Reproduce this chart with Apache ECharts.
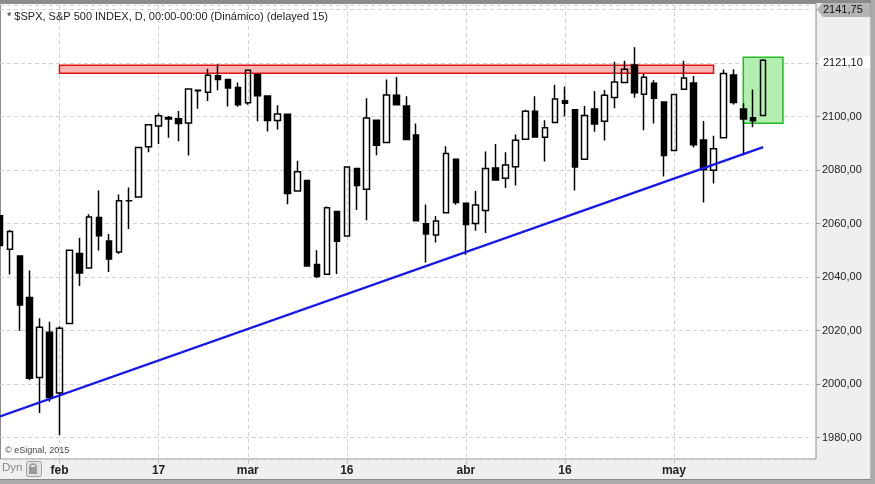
<!DOCTYPE html>
<html><head><meta charset="utf-8">
<script src="https://cdn.jsdelivr.net/npm/echarts@6/dist/echarts.min.js"></script>
<style>html,body{margin:0;padding:0;background:#efefef;overflow:hidden}#c{width:875px;height:484px}</style>
</head><body><div id="c"></div>
<script>
// ---- data ----
const dates = ['2015-01-23','2015-01-26','2015-01-27','2015-01-28','2015-01-29','2015-01-30',
 '2015-02-02','2015-02-03','2015-02-04','2015-02-05','2015-02-06','2015-02-09','2015-02-10','2015-02-11','2015-02-12','2015-02-13',
 '2015-02-17','2015-02-18','2015-02-19','2015-02-20','2015-02-23','2015-02-24','2015-02-25','2015-02-26','2015-02-27',
 '2015-03-02','2015-03-03','2015-03-04','2015-03-05','2015-03-06','2015-03-09','2015-03-10','2015-03-11','2015-03-12','2015-03-13',
 '2015-03-16','2015-03-17','2015-03-18','2015-03-19','2015-03-20','2015-03-23','2015-03-24','2015-03-25','2015-03-26','2015-03-27',
 '2015-03-30','2015-03-31','2015-04-01','2015-04-02','2015-04-06','2015-04-07','2015-04-08','2015-04-09','2015-04-10',
 '2015-04-13','2015-04-14','2015-04-15','2015-04-16','2015-04-17','2015-04-20','2015-04-21','2015-04-22','2015-04-23','2015-04-24',
 '2015-04-27','2015-04-28','2015-04-29','2015-04-30','2015-05-01','2015-05-04','2015-05-05','2015-05-06','2015-05-07','2015-05-08',
 '2015-05-11','2015-05-12','2015-05-13','2015-05-14'];
const futureDates = ['2015-05-15','2015-05-18','2015-05-19','2015-05-20','2015-05-21'];
const opens = [2062.98,2050.42,2047.86,2032.34,2002.45,2019.35,1996.67,2022.71,2048.86,2043.45,2062.28,2053.47,2049.38,2068.55,2069.98,2088.78,
 2096.47,2099.16,2099.25,2097.65,2109.83,2109.10,2115.30,2113.91,2110.88,2105.23,2115.76,2107.72,2098.54,2100.91,2072.25,2076.14,2044.69,2041.10,2064.56,
 2055.35,2080.59,2072.84,2098.69,2090.32,2107.99,2103.94,2093.10,2059.94,2055.78,2064.11,2084.05,2067.63,2060.03,2064.87,2080.79,2076.94,2081.29,2091.51,
 2102.03,2092.28,2097.82,2105.96,2102.58,2084.11,2102.82,2098.27,2107.21,2112.80,2119.29,2108.35,2112.49,2105.52,2087.38,2110.23,2112.63,2091.26,2079.96,2092.13,
 2115.56,2102.87,2099.62,2100.43];
const highs = [2062.98,2057.62,2047.86,2042.49,2024.64,2023.32,2021.66,2050.30,2054.74,2063.55,2072.40,2056.16,2070.86,2073.48,2088.53,2097.03,
 2101.30,2100.23,2102.13,2110.61,2110.05,2117.94,2119.59,2113.91,2112.74,2117.52,2115.76,2107.72,2104.25,2100.91,2083.49,2076.14,2050.08,2066.41,2064.56,
 2081.41,2080.59,2106.85,2098.69,2113.92,2114.86,2107.63,2097.43,2067.15,2062.83,2088.97,2084.05,2067.63,2072.17,2086.99,2089.81,2086.69,2093.31,2102.61,
 2107.65,2098.62,2111.91,2111.30,2102.58,2103.94,2109.64,2109.98,2120.49,2120.92,2125.92,2116.04,2113.65,2105.52,2108.41,2120.95,2115.24,2098.42,2092.90,2117.66,
 2117.69,2105.06,2110.19,2121.45];
const lows = [2050.54,2040.97,2019.91,2001.49,1989.18,1993.38,1980.90,2022.71,2036.72,2043.45,2049.97,2041.88,2048.62,2057.99,2069.98,2086.70,
 2089.80,2092.15,2090.79,2085.44,2103.00,2105.87,2109.89,2103.76,2103.75,2104.50,2098.26,2094.49,2095.22,2067.27,2072.21,2044.16,2039.69,2041.10,2041.17,
 2055.35,2065.08,2061.23,2085.56,2090.32,2104.42,2091.50,2061.05,2045.50,2052.96,2064.11,2067.04,2048.38,2057.32,2056.52,2076.10,2073.30,2074.29,2091.51,
 2092.33,2083.24,2097.82,2100.02,2072.37,2084.11,2094.38,2091.05,2103.19,2112.80,2107.04,2094.89,2097.41,2077.59,2087.38,2110.23,2088.46,2067.93,2074.99,2092.13,
 2104.58,2085.57,2096.04,2100.43];
const closes = [2051.82,2057.09,2029.55,2002.16,2021.25,1994.99,2020.85,2050.03,2041.51,2062.52,2055.47,2046.74,2068.59,2068.53,2088.48,2096.99,
 2100.34,2099.68,2097.45,2110.30,2109.66,2115.48,2113.86,2110.74,2104.50,2117.39,2107.78,2098.53,2101.04,2071.26,2079.43,2044.16,2040.24,2065.95,2053.40,
 2081.19,2074.28,2099.50,2089.27,2108.10,2104.42,2091.50,2061.05,2056.15,2061.02,2086.24,2067.89,2059.69,2066.96,2080.62,2076.33,2081.90,2091.18,2102.06,
 2092.43,2095.84,2106.63,2104.99,2081.18,2100.40,2097.29,2107.96,2112.93,2117.69,2108.92,2114.76,2106.85,2085.51,2108.29,2114.49,2089.46,2080.15,2088.00,2116.10,
 2105.33,2099.12,2098.48,2121.10];
const tickDates = ['2015-02-02','2015-02-17','2015-03-02','2015-03-16','2015-04-01','2015-04-16','2015-05-01'];
const tickLabels = ['feb','17','mar','16','abr','16','may'];
const yHiddenLabels = [2120, 2140];
const scaleRange = [1972.0, 2141.75];
const lastPrice = 2121.10;
const resistanceX = ['2015-02-02','2015-05-07'];
const resistanceY = [2119.2, 2116.2];
const highlightX = ['2015-05-12','2015-05-18'];
const highlightY = [2122.2, 2097.5];
const trendX = ['2015-01-23','2015-05-14'];
const trendY = [1987.9, 2088.6];
const titleText = '* $SPX, S&P 500 INDEX, D, 00:00-00:00 (Dinámico) (delayed 15)';

// ---- chart ----
const FONT = '"Liberation Sans", Arial, sans-serif';
const allDates = dates.concat(futureDates);
const candles = dates.map((d, i) => [opens[i], closes[i], lows[i], highs[i]]);
const isTick = (i, v) => tickDates.indexOf(v) >= 0;
const fmtNum = v => v.toFixed(2).replace('.', ',');

const chart = echarts.init(document.getElementById('c'), null, {renderer: 'canvas'});
const step = 9.93, gLeft = -1.6;
const gRight = 875 - (gLeft + step * (allDates.length - 1));

chart.setOption({
  animation: false,
  backgroundColor: '#efefef',
  title: {text: titleText, left: 7, top: 11, padding: 0,
    textStyle: {fontSize: 11, fontWeight: 'normal', color: '#222', fontFamily: FONT}},
  grid: {left: gLeft, right: gRight, top: 5, bottom: 25, show: false},
  xAxis: {
    type: 'category', data: allDates, boundaryGap: false,
    axisLine: {show: false},
    axisTick: {show: true, interval: isTick, length: 5, lineStyle: {color: '#c8c8c8'}},
    axisLabel: {interval: isTick, formatter: v => tickLabels[tickDates.indexOf(v)] || '',
      margin: 6, fontSize: 12, fontWeight: 'bold', color: '#222', fontFamily: FONT},
    splitLine: {show: true, interval: isTick, lineStyle: {color: '#d2d2d2', type: [4, 3], width: 1}}
  },
  yAxis: {
    type: 'value', position: 'right', offset: 816 - (875 - gRight),
    min: scaleRange[0], max: scaleRange[1], splitNumber: 8, minInterval: 20, maxInterval: 20,
    axisLine: {show: false},
    axisTick: {show: true, length: 4, lineStyle: {color: '#9a9a9a'}},
    axisLabel: {showMinLabel: false, showMaxLabel: false, margin: 6, fontSize: 11, color: '#222', fontFamily: FONT,
      formatter: v => (yHiddenLabels.indexOf(v) >= 0 ? '' : fmtNum(v))},
    splitLine: {show: true, lineStyle: {color: '#d2d2d2', type: [4, 3], width: 1}}
  },
  series: [
    {type: 'line', data: [], z: 1, silent: true,
      markArea: {silent: true, label: {show: false}, data: [
        [{coord: [resistanceX[0], resistanceY[0]], itemStyle: {color: '#ffb4b4', borderColor: '#e01010', borderWidth: 1.5}},
         {coord: [resistanceX[1], resistanceY[1]]}],
        [{coord: [highlightX[0], highlightY[0]], itemStyle: {color: '#b3efb0', borderColor: '#22bb22', borderWidth: 1.5}},
         {coord: [highlightX[1], highlightY[1]]}]
      ]}},
    {type: 'candlestick', data: candles, z: 2, barWidth: 6, silent: true,
      itemStyle: {color: 'rgba(255,255,255,0)', color0: '#000', borderColor: '#000', borderColor0: '#000', borderWidth: 1.5}},
    {type: 'line', data: [], z: 3, silent: true,
      markLine: {silent: true, symbol: ['none', 'none'], label: {show: false},
        lineStyle: {color: '#1616ee', width: 2.2, type: 'solid'},
        data: [[{coord: [trendX[0], trendY[0]]}, {coord: [trendX[1], trendY[1]]}]]}}
  ]
});

const yTop = chart.convertToPixel({yAxisIndex: 0}, scaleRange[1]) + 4.5;
const yLast = chart.convertToPixel({yAxisIndex: 0}, lastPrice) + 2;
function marker(yc, h, fill, text) {
  return [
    {type: 'polygon', z: 20, silent: true,
      shape: {points: [[817, yc], [823, yc - h], [871, yc - h], [871, yc + h], [823, yc + h]]},
      style: {fill: fill}},
    {type: 'text', z: 21, silent: true, x: 823, y: yc + 0.5,
      style: {text: text, font: '11px ' + FONT, fill: '#111', verticalAlign: 'middle', align: 'left'}}
  ];
}
chart.setOption({
  graphic: [
    {type: 'rect', z: -10, silent: true, shape: {x: 0.5, y: 3.5, width: 815.5, height: 455.5},
      style: {fill: '#ffffff', stroke: '#8e8e8e', lineWidth: 1}},
    {type: 'rect', z: 30, silent: true, shape: {x: 0, y: 0, width: 875, height: 3}, style: {fill: '#8c8c8c'}},
    {type: 'rect', z: 30, silent: true, shape: {x: 871, y: 0, width: 4, height: 484}, style: {fill: '#ababab'}},
    {type: 'rect', z: 30, silent: true, shape: {x: 870.5, y: 3, width: 0.5, height: 476}, style: {fill: '#888'}},
    {type: 'rect', z: 30, silent: true, shape: {x: 0, y: 479, width: 875, height: 5}, style: {fill: '#ababab'}},
    {type: 'rect', z: 31, silent: true, shape: {x: 0, y: 479, width: 871, height: 1}, style: {fill: '#888'}},
    {type: 'text', z: 22, silent: true, x: 5, y: 451,
      style: {text: '© eSignal, 2015', font: '9px ' + FONT, fill: '#444', verticalAlign: 'middle'}},
    {type: 'text', z: 22, silent: true, x: 2, y: 468,
      style: {text: 'Dyn', font: '11.5px ' + FONT, fill: '#8a8a8a', verticalAlign: 'middle'}},
    {type: 'rect', z: 22, silent: true, shape: {x: 26.5, y: 461.5, width: 15, height: 15, r: 2},
      style: {fill: '#e2e2e2', stroke: '#a0a0a0', lineWidth: 1}},
    {type: 'arc', z: 23, silent: true, shape: {cx: 33, cy: 467, r: 3, startAngle: Math.PI, endAngle: 0},
      style: {fill: 'none', stroke: '#9a9a9a', lineWidth: 1.5}},
    {type: 'rect', z: 23, silent: true, shape: {x: 29, y: 467, width: 8, height: 7}, style: {fill: '#9a9a9a'}}
  ].concat(marker(yTop, 7.5, '#b4b4b4', fmtNum(scaleRange[1])), marker(yLast, 6, '#ffffff', fmtNum(lastPrice)))
});
</script>
</body></html>
